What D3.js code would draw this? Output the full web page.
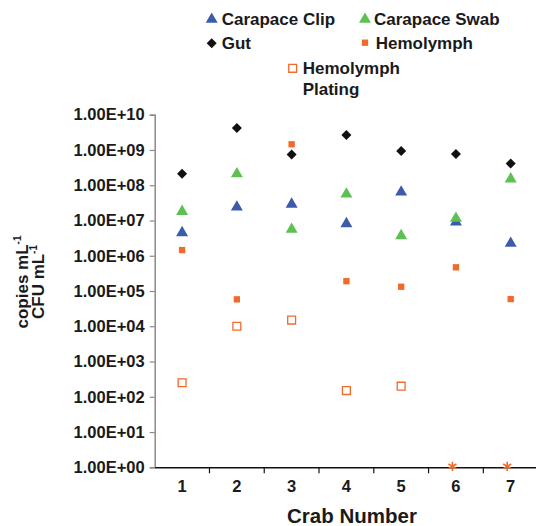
<!DOCTYPE html>
<html>
<head>
<meta charset="utf-8">
<script src="https://cdn.jsdelivr.net/npm/d3@7"></script>
<style>
  body { margin: 0; background: #fff; }
  text { font-family: "Liberation Sans", Arial, Helvetica, sans-serif; font-weight: bold; fill: #1a1a1a; }
</style>
</head>
<body>
<div id="chart"></div>
<script>
// data
const crabs = ["1", "2", "3", "4", "5", "6", "7"];
const carapaceClip = [4.5e6, 2.4e7, 2.9e7, 8.1e6, 6.4e7, 9.0e6, 2.25e6];
const carapaceSwab = [1.8e7, 2.1e8, 5.6e6, 5.6e7, 3.7e6, 1.15e7, 1.5e8];
const gut = [2.1e8, 4.2e9, 7.4e8, 2.65e9, 9.3e8, 7.7e8, 4.1e8];
const hemolymph = [1.45e6, 5.8e4, 1.45e9, 1.9e5, 1.32e5, 4.7e5, 5.9e4];
const hemolymphPlating = [250, 1.0e4, 1.5e4, 150, 200, null, null];
const belowDetection = [null, null, null, null, null, 1, 1]; // asterisks
const yTicks = [1, 1e1, 1e2, 1e3, 1e4, 1e5, 1e6, 1e7, 1e8, 1e9, 1e10];

const width = 536, height = 526;

const svg = d3.select("#chart").append("svg")
  .attr("width", width)
  .attr("height", height);

// scales
const x = d3.scaleBand().domain(crabs).range([154.7, 538.1]);
const y = d3.scaleLog().domain([1, 1e10]).range([467.3, 114.7]);

// y axis (grey)
const yAxis = svg.append("g")
  .attr("transform", "translate(154.7,0)")
  .call(d3.axisLeft(y).tickValues(yTicks).tickSize(5).tickPadding(5)
    .tickFormat(d => "1.00E+" + String(Math.round(Math.log10(d))).padStart(2, "0")));
yAxis.select(".domain").attr("stroke", "#8a8a8a").attr("stroke-width", 1.5);
yAxis.selectAll(".tick line").attr("stroke", "#8a8a8a").attr("stroke-width", 1.2);
yAxis.selectAll(".tick text").attr("font-size", 16.5).attr("fill", "#1a1a1a")
  .attr("font-family", "Liberation Sans, Arial, sans-serif").attr("font-weight", "bold");

// x axis (black) with ticks between categories
const xAxis = svg.append("g")
  .attr("transform", "translate(0,467.3)")
  .call(d3.axisBottom(x).tickSize(0).tickPadding(13).tickSizeOuter(0));
xAxis.select(".domain").attr("stroke", "#111").attr("stroke-width", 1.5);
xAxis.selectAll(".tick text").attr("font-size", 16.5).attr("fill", "#1a1a1a")
  .attr("font-family", "Liberation Sans, Arial, sans-serif").attr("font-weight", "bold");
xAxis.selectAll(".sep")
  .data(crabs.slice(1))
  .enter().append("line")
  .attr("x1", d => x(d)).attr("x2", d => x(d))
  .attr("y1", 0).attr("y2", 6)
  .attr("stroke", "#111").attr("stroke-width", 1.2);

// axis titles
svg.append("text")
  .attr("x", 352).attr("y", 523)
  .attr("text-anchor", "middle")
  .attr("font-size", 20.5)
  .text("Crab Number");

const yTitle = svg.append("g").attr("transform", "translate(0,282) rotate(-90)");
const t1 = yTitle.append("text").attr("x", 0).attr("y", 27.5).attr("text-anchor", "middle").attr("font-size", 17);
t1.append("tspan").text("copies mL");
t1.append("tspan").attr("font-size", 10).attr("dy", -7).text("-1");
const t2 = yTitle.append("text").attr("x", 0).attr("y", 43.5).attr("text-anchor", "middle").attr("font-size", 17);
t2.append("tspan").text("CFU mL");
t2.append("tspan").attr("font-size", 10).attr("dy", -7).text("-1");

// series definitions
const cx = (i) => x(crabs[i]) + x.bandwidth() / 2;
const series = [
  { name: "Carapace Clip", values: carapaceClip, symbol: d3.symbolTriangle, size: 62, fill: "#3c5ba9", stroke: "none", rot: 0 },
  { name: "Carapace Swab", values: carapaceSwab, symbol: d3.symbolTriangle, size: 62, fill: "#5cc152", stroke: "none", rot: 0 },
  { name: "Gut", values: gut, symbol: d3.symbolSquare, size: 50, fill: "#111", stroke: "none", rot: 45 },
  { name: "Hemolymph", values: hemolymph, symbol: d3.symbolSquare, size: 40, fill: "#f26a2a", stroke: "none", rot: 0 },
  { name: "Hemolymph\nPlating", values: hemolymphPlating, symbol: d3.symbolSquare, size: 62, fill: "#fff", stroke: "#f26a2a", rot: 0 }
];

// draw order: plating, hemolymph, gut, swab, clip over swab at crab 6? (swab drawn over clip)
const drawOrder = [4, 3, 2, 0, 1];
drawOrder.forEach(si => {
  const s = series[si];
  svg.append("g").selectAll("path")
    .data(s.values.map((v, i) => ({ v, i })).filter(d => d.v != null))
    .enter().append("path")
    .attr("d", d3.symbol().type(s.symbol).size(s.size))
    .attr("transform", d => `translate(${cx(d.i)},${y(d.v)}) rotate(${s.rot})`)
    .attr("fill", s.fill)
    .attr("stroke", s.stroke)
    .attr("stroke-width", 1.3);
});

// asterisks sitting on the axis
svg.append("g").selectAll("path")
  .data(belowDetection.map((v, i) => ({ v, i })).filter(d => d.v != null))
  .enter().append("path")
  .attr("d", d3.symbol().type(d3.symbolAsterisk).size(60))
  .attr("transform", d => `translate(${cx(d.i) - 3.5},${y(d.v) - 1})`)
  .attr("fill", "none")
  .attr("stroke", "#f26a2a")
  .attr("stroke-width", 1.6);

// legend
const legendPos = [
  { mx: 211.7, my: 19.3, tx: 221.7, ty: 25 },
  { mx: 365, my: 19.3, tx: 374, ty: 25 },
  { mx: 211.7, my: 43.3, tx: 221.7, ty: 49.3 },
  { mx: 365, my: 42.7, tx: 375.7, ty: 49.3 },
  { mx: 292.7, my: 68.3, tx: 302.7, ty: 74 }
];
series.forEach((s, i) => {
  const p = legendPos[i];
  svg.append("path")
    .attr("d", d3.symbol().type(s.symbol).size(s.size))
    .attr("transform", `translate(${p.mx},${p.my}) rotate(${s.rot})`)
    .attr("fill", s.fill)
    .attr("stroke", s.stroke)
    .attr("stroke-width", 1.3);
  const txt = svg.append("text").attr("x", p.tx).attr("y", p.ty).attr("font-size", 17);
  s.name.split("\n").forEach((line, j) => {
    txt.append("tspan").attr("x", p.tx).attr("dy", j === 0 ? 0 : 20.5).text(line);
  });
});
</script>
</body>
</html>
